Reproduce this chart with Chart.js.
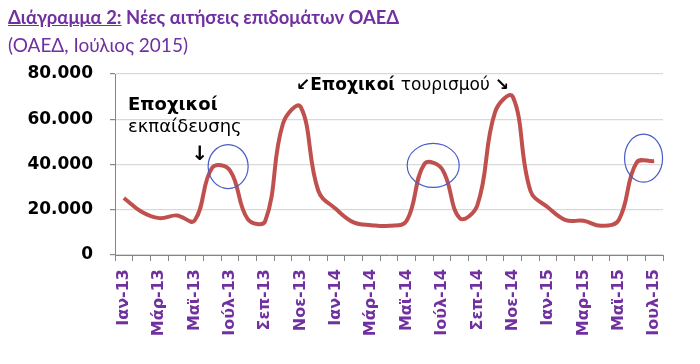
<!DOCTYPE html>
<html>
<head>
<meta charset="utf-8">
<script src="https://cdn.jsdelivr.net/npm/chart.js@4.4.1/dist/chart.umd.min.js"></script>
<style>
  html, body { margin: 0; padding: 0; background: #fff; }
  #wrap { position: relative; width: 700px; height: 364px; }
  #title { position: absolute; left: 8px; top: 6px; font-family: Lato, "Open Sans", sans-serif; font-weight: bold; font-size: 18.4px; color: #7030A0; white-space: nowrap; }
  #title u { text-decoration: underline; }
  #sub { position: absolute; left: 8px; top: 33px; font-family: Lato, "Open Sans", sans-serif; font-size: 19px; color: #7030A0; white-space: nowrap; }
  canvas { position: absolute; left: 0; top: 0; }
</style>
</head>
<body>
<div id="wrap">
  <canvas id="c" width="700" height="364"></canvas>
  <div id="title"><u>Διάγραμμα 2:</u> Νέες αιτήσεις επιδομάτων ΟΑΕΔ</div>
  <div id="sub">(ΟΑΕΔ, Ιούλιος 2015)</div>
</div>
<script>
// Months (Jan 2013 – Jul 2015)
const categories = [
  'Ιαν-13','Φεβ-13','Μάρ-13','Απρ-13','Μαϊ-13','Ιούν-13','Ιούλ-13','Αύγ-13','Σεπ-13','Οκτ-13','Νοε-13','Δεκ-13',
  'Ιαν-14','Φεβ-14','Μάρ-14','Απρ-14','Μαϊ-14','Ιούν-14','Ιούλ-14','Αύγ-14','Σεπ-14','Οκτ-14','Νοε-14','Δεκ-14',
  'Ιαν-15','Φεβ-15','Μαρ-15','Απρ-15','Μαϊ-15','Ιουν-15','Ιουλ-15'
];
// New benefit applications
const applications = [
  25200, 19100, 16300, 17500, 15200, 38600, 37400, 16000, 15000, 58000, 65500, 28400,
  20300, 14400, 13200, 12900, 15100, 40200, 38000, 16300, 22000, 63200, 70000, 28400,
  21000, 15400, 15100, 12900, 15500, 40800, 41500
];
// Y axis ticks
const yTicks = [0, 20000, 40000, 60000, 80000];
// Highlighted seasonal peaks (category index, value)
const highlightIdx = [5.9, 17.5, 29.4];
const highlightVal = [39100, 39600, 42800];

function fmt(v) { return String(v).replace(/\B(?=(\d{3})+(?!\d))/g, '.'); }

const annotations = {
  id: 'annotations',
  afterDraw(chart) {
    const ctx = chart.ctx;
    const xs = chart.scales.x, ys = chart.scales.y;
    ctx.save();
    // ellipses
    ctx.strokeStyle = '#4a5cc8';
    ctx.lineWidth = 1.2;
    const radii = [[20, 22], [26, 22], [19, 24]];
    highlightIdx.forEach((idx, i) => {
      const cx = xs.getPixelForValue(idx);
      const cy = ys.getPixelForValue(highlightVal[i]);
      ctx.beginPath();
      ctx.ellipse(cx, cy, radii[i][0], radii[i][1], 0, 0, Math.PI * 2);
      ctx.stroke();
    });
    // texts
    ctx.fillStyle = '#000';
    ctx.textBaseline = 'alphabetic';
    ctx.textAlign = 'left';
    ctx.font = 'bold 18px "DejaVu Sans"';
    ctx.fillText('Εποχικοί', 128, 110);
    ctx.font = '18px "DejaVu Sans"';
    ctx.fillText('εκπαίδευσης', 128, 132);
    ctx.font = 'bold 20px "DejaVu Sans"';
    ctx.textAlign = 'center';
    ctx.fillText('↓', 200, 160);
    ctx.textAlign = 'left';
    let x = 296;
    const yb = 90;
    ctx.font = 'bold 17px "DejaVu Sans"';
    ctx.fillText('↙', x, yb); x += ctx.measureText('↙').width;
    ctx.fillText('Εποχικοί', x, yb); x += ctx.measureText('Εποχικοί ').width;
    ctx.font = '500 17px "DejaVu Sans"';
    ctx.fillText('τουρισμού', x, yb); x += ctx.measureText('τουρισμού ').width;
    ctx.font = 'bold 17px "DejaVu Sans"';
    ctx.fillText('↘', x, yb);
    ctx.restore();
  }
};

new Chart(document.getElementById('c'), {
  type: 'line',
  data: {
    labels: categories,
    datasets: [{
      data: applications,
      borderColor: '#c0504d',
      borderWidth: 4,
      pointRadius: 0,
      tension: 0.4,
      fill: false
    }]
  },
  options: {
    responsive: false,
    animation: false,
    layout: { padding: { top: 74, right: 37, left: 0, bottom: 0 } },
    plugins: { legend: { display: false }, tooltip: { enabled: false }, title: { display: false } },
    scales: {
      x: {
        type: 'category',
        offset: true,
        grid: { display: true, drawOnChartArea: false, drawTicks: true, tickLength: 6, offset: true, tickColor: '#868686' },
        border: { color: '#868686', width: 1 },
        ticks: {
          autoSkip: false,
          maxRotation: 90,
          minRotation: 90,
          padding: 8,
          color: '#7030A0',
          font: { family: 'DejaVu Sans', size: 16, weight: 'bold' },
          callback: function(v, i) { return i % 2 === 0 ? categories[i] : ''; }
        },
        afterFit(scale) { scale.height = 109; }
      },
      y: {
        min: 0,
        max: 80000,
        afterBuildTicks(scale) { scale.ticks = yTicks.map(v => ({ value: v })); },
        grid: { color: '#d9d9d9', tickLength: 5, tickColor: '#868686', lineWidth: 1.2 },
        border: { color: '#868686', width: 1 },
        ticks: {
          padding: 17,
          color: '#000',
          font: { family: 'DejaVu Sans', size: 17, weight: 'bold' },
          callback: v => fmt(v)
        },
        afterFit(scale) { scale.width = 115; }
      }
    }
  },
  plugins: [annotations]
});
</script>
</body>
</html>
